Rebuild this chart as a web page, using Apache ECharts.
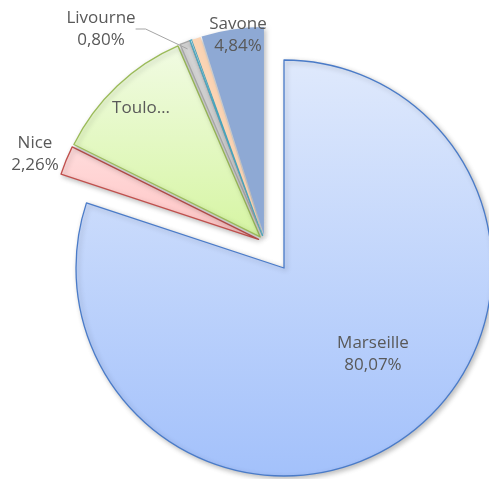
<!DOCTYPE html>
<html>
<head>
<meta charset="utf-8">
<script src="https://cdn.jsdelivr.net/npm/echarts@6/dist/echarts.min.js"></script>
<style>
  html, body { margin: 0; padding: 0; background: #fff; }
  #chart { width: 489px; height: 479px; }
</style>
</head>
<body>
<div id="chart"></div>
<script>
  // donnees (parts en %)
  var villes = ['Marseille', 'Nice', 'Toulon', 'Livourne', 'Autre', 'Divers', 'Savone']
  var parts = [80.07, 2.26, 11.2, 0.80, 0.15, 0.68, 4.84]

  var fills = [
    new echarts.graphic.LinearGradient(0, 0, 0, 1, [
      { offset: 0, color: '#dfe9fc' },
      { offset: 1, color: '#a3c1fb' }
    ]),
    new echarts.graphic.LinearGradient(0, 0, 0, 1, [
      { offset: 0, color: '#ffdcdc' },
      { offset: 1, color: '#ffc4c4' }
    ]),
    new echarts.graphic.LinearGradient(0, 0, 0, 1, [
      { offset: 0, color: '#f1fbe3' },
      { offset: 1, color: '#d6f5a3' }
    ]),
    '#d9d9d9',
    '#e9f3f7',
    '#fbd4b4',
    '#8ea9d4'
  ]
  var borders = ['#4a7bc8', '#c0504d', '#9bbb59', '#a5a5a5', '#4bacc6', '#fbd4b4', '#8ea9d4']

  // position des etiquettes
  var labelPos = {
    0: [373, 354],
    1: [35, 154],
    2: [141, 108],
    3: [101, 29],
    6: [238, 35]
  }

  function fmt(v) {
    return v.toFixed(2).replace('.', ',') + '%'
  }

  var labelStyle = {
    color: '#595959',
    fontFamily: 'Open Sans',
    fontSize: 17,
    lineHeight: 22,
    align: 'center',
    formatter: function (p) { return p.name + '\n' + fmt(p.value) }
  }

  var shadow = {
    shadowBlur: 5,
    shadowOffsetX: 2,
    shadowOffsetY: 2,
    shadowColor: 'rgba(0,0,0,0.25)'
  }

  // secteurs (sans etiquettes)
  function sliceData(main) {
    return villes.map(function (name, i) {
      var visible = main ? i === 0 : i !== 0
      return {
        name: name,
        value: parts[i],
        selected: !main && visible,
        itemStyle: visible ? Object.assign({
          color: fills[i],
          borderColor: borders[i],
          borderWidth: (i === 5 || i === 6) ? 0 : 1.3
        }, shadow) : { color: 'transparent', borderWidth: 0 }
      }
    })
  }

  // etiquettes seules
  function labelData(main) {
    return villes.map(function (name, i) {
      var visible = (main ? i === 0 : i !== 0) && labelPos[i] !== undefined
      var item = {
        name: name,
        value: parts[i],
        itemStyle: { color: 'transparent', borderWidth: 0 },
        label: { show: visible },
        labelLine: { show: visible && i === 3 }
      }
      if (i === 2) {
        // etiquette tronquee comme dans l'original
        item.label.formatter = function (p) { return p.name.slice(0, 5) + '…' }
      }
      return item
    })
  }

  function layoutFn(params) {
    var p = labelPos[params.dataIndex]
    if (!p) return {}
    return { x: p[0], y: p[1], align: 'center', verticalAlign: 'middle' }
  }

  var centreA = [284, 268]
  var centreB = [265, 242]

  var chart = echarts.init(document.getElementById('chart'), null, { renderer: 'canvas' })
  chart.setOption({
    backgroundColor: '#fff',
    animation: false,
    series: [
      {
        type: 'pie',
        z: 2,
        center: centreA,
        radius: 208,
        startAngle: 90,
        silent: true,
        label: { show: false },
        labelLine: { show: false },
        data: sliceData(true)
      },
      {
        type: 'pie',
        z: 2,
        center: centreB,
        radius: 208,
        startAngle: 90,
        silent: true,
        selectedMode: 'multiple',
        selectedOffset: 7,
        label: { show: false },
        labelLine: { show: false },
        data: sliceData(false)
      },
      {
        type: 'pie',
        z: 5,
        center: centreA,
        radius: 208,
        startAngle: 90,
        silent: true,
        avoidLabelOverlap: false,
        label: labelStyle,
        labelLayout: layoutFn,
        data: labelData(true)
      },
      {
        type: 'pie',
        z: 5,
        center: centreB,
        radius: 208,
        startAngle: 90,
        silent: true,
        avoidLabelOverlap: false,
        label: labelStyle,
        labelLine: {
          length: 10,
          length2: 10,
          lineStyle: { color: '#a5a5a5', width: 1 }
        },
        labelLayout: layoutFn,
        data: labelData(false)
      }
    ]
  })
</script>
</body>
</html>
